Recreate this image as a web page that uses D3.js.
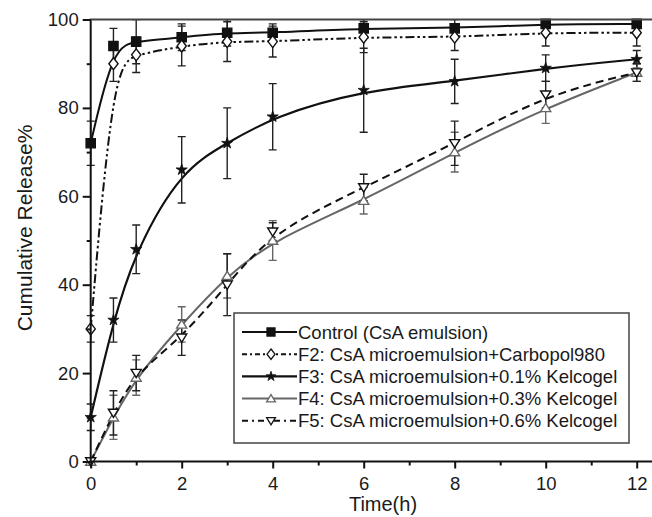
<!DOCTYPE html>
<html>
<head>
<meta charset="utf-8">
<script src="https://cdn.jsdelivr.net/npm/d3@7"></script>
<style>
  body { margin: 0; background: #fff; }
  svg text { font-family: "Liberation Sans", Arial, sans-serif; fill: #1a1a1a; }
</style>
</head>
<body>
<div id="release_chart"></div>
<script>
// sampling times (h)
var times = [0, 0.5, 1, 2, 3, 4, 6, 8, 10, 12];

// cumulative release % and SD for each formulation
var controlVals = [72, 94, 95, 96, 97, 97, 98, 98, 99, 99];
var controlErr  = [5, 4, 5, 3, 3, 2, 2, 2, 1, 1];
var f2Vals = [30, 90, 92, 94, 95, 95, 96, 96, 97, 97];
var f2Err  = [3, 4, 4, 4.5, 4.5, 3.5, 3.5, 3, 3, 3];
var f3Vals = [10, 32, 48, 66, 72, 78, 84, 86, 89, 91];
var f3Err  = [3, 5, 5.5, 7.5, 8, 7.5, 9.5, 5, 3, 2];
var f4Vals = [0, 10, 19, 31, 42, 50, 59, 70, 80, 88];
var f4Err  = [0.5, 5, 4, 4, 5, 4.5, 3, 4.5, 3.5, 2];
var f5Vals = [0, 11, 20, 28, 40, 52, 62, 72, 83, 88];
var f5Err  = [0.5, 5, 4, 4, 7, 2, 3, 5, 3, 2];

var seriesNames = [
  "Control (CsA emulsion)",
  "F2: CsA microemulsion+Carbopol980",
  "F3: CsA microemulsion+0.1% Kelcogel",
  "F4: CsA microemulsion+0.3% Kelcogel",
  "F5: CsA microemulsion+0.6% Kelcogel"
];

var xMajorTicks = [0, 2, 4, 6, 8, 10, 12];
var xMinorTicks = [1, 3, 5, 7, 9, 11];
var yMajorTicks = [0, 20, 40, 60, 80, 100];
var yMinorTicks = [10, 30, 50, 70, 90];

var svg, x, y;
drawChart();

/**
 * path for a marker, s = half size
 */
function markerPath(kind, s) {
  if (kind == "square") return "M" + (-s) + "," + (-s) + "h" + (2 * s) + "v" + (2 * s) + "h" + (-2 * s) + "Z";
  if (kind == "diamond") return "M0," + (-s * 1.3) + "L" + s + ",0L0," + (s * 1.3) + "L" + (-s) + ",0Z";
  if (kind == "star") return d3.symbol().type(d3.symbolStar).size(s * s * 1.3)();
  if (kind == "up") return "M0," + (-s) + "L" + (s * 1.1) + "," + (s * 0.8) + "L" + (-s * 1.1) + "," + (s * 0.8) + "Z";
  if (kind == "down") return "M0," + s + "L" + (s * 1.1) + "," + (-s * 0.8) + "L" + (-s * 1.1) + "," + (-s * 0.8) + "Z";
}

function drawChart()
{
  svg = d3.select("#release_chart")
    .append("svg")
    .attr("width", 652)
    .attr("height", 517);

  x = d3.scaleLinear().domain([0, 12]).range([90.7, 636.7]);
  y = d3.scaleLinear().domain([0, 100]).range([461.5, 19.5]);

  var series = [
    {name: seriesNames[0], vals: controlVals, err: controlErr, color: "#111", bar: "#222", dash: null, marker: "square", fill: "#111", width: 2},
    {name: seriesNames[1], vals: f2Vals, err: f2Err, color: "#111", bar: "#222", dash: "9,3,2.5,3,2.5,3", marker: "diamond", fill: "#fff", width: 2},
    {name: seriesNames[2], vals: f3Vals, err: f3Err, color: "#111", bar: "#222", dash: null, marker: "star", fill: "#111", width: 2.2},
    {name: seriesNames[3], vals: f4Vals, err: f4Err, color: "#666", bar: "#666", dash: null, marker: "up", fill: "#fff", width: 2},
    {name: seriesNames[4], vals: f5Vals, err: f5Err, color: "#111", bar: "#222", dash: "8,5", marker: "down", fill: "#fff", width: 2}
  ];

  svg.append("clipPath").attr("id", "plotClip")
    .append("rect")
    .attr("x", 60).attr("y", y(100))
    .attr("width", 600).attr("height", y(0) - y(100) + 30);

  var plot = svg.append("g").attr("clip-path", "url(#plotClip)");

  // smoothed (fitted-looking) curves
  var line = d3.line()
    .x(function(d) { return x(d[0]); })
    .y(function(d) { return y(d[1]); })
    .curve(d3.curveBasis);

  series.forEach(function(s) {
    plot.append("path")
      .datum(times.map(function(t, i) { return [t, s.vals[i]]; }))
      .attr("d", line)
      .attr("fill", "none")
      .attr("stroke", s.color)
      .attr("stroke-width", s.width)
      .attr("stroke-dasharray", s.dash);
  });

  // error bars
  series.forEach(function(s) {
    var g = plot.append("g").attr("stroke", s.bar).attr("stroke-width", 1.4);
    times.forEach(function(t, i) {
      var cx = x(t), hi = y(s.vals[i] + s.err[i]), lo = y(s.vals[i] - s.err[i]);
      g.append("line").attr("x1", cx).attr("x2", cx).attr("y1", hi).attr("y2", lo);
      g.append("line").attr("x1", cx - 4).attr("x2", cx + 4).attr("y1", hi).attr("y2", hi);
      g.append("line").attr("x1", cx - 4).attr("x2", cx + 4).attr("y1", lo).attr("y2", lo);
    });
  });

  // markers
  series.forEach(function(s) {
    svg.append("g")
      .selectAll("path")
      .data(times.map(function(t, i) { return [t, s.vals[i]]; }))
      .enter()
      .append("path")
      .attr("transform", function(d) { return "translate(" + x(d[0]) + "," + y(d[1]) + ")"; })
      .attr("d", markerPath(s.marker, s.marker == "star" ? 5.5 : 4.6))
      .attr("fill", s.fill)
      .attr("stroke", s.color)
      .attr("stroke-width", s.marker == "star" ? 0.8 : 1.4);
  });

  // frame: left, bottom, top (right edge is cut off)
  svg.append("line").attr("x1", x(0)).attr("x2", x(0)).attr("y1", y(0)).attr("y2", y(100))
    .attr("stroke", "#111").attr("stroke-width", 2);
  svg.append("line").attr("x1", x(0) - 1).attr("x2", 652).attr("y1", y(0)).attr("y2", y(0))
    .attr("stroke", "#111").attr("stroke-width", 2);
  svg.append("line").attr("x1", x(0) - 1).attr("x2", 652).attr("y1", y(100)).attr("y2", y(100))
    .attr("stroke", "#444").attr("stroke-width", 2);

  // x axis
  svg.append("g")
    .attr("transform", "translate(0," + y(0) + ")")
    .call(d3.axisBottom(x).tickValues(xMajorTicks).tickSize(7).tickPadding(8));
  svg.append("g")
    .attr("transform", "translate(0," + y(0) + ")")
    .call(d3.axisBottom(x).tickValues(xMinorTicks).tickSize(4).tickFormat(""));

  // y axis
  svg.append("g")
    .attr("transform", "translate(" + x(0) + ",0)")
    .call(d3.axisLeft(y).tickValues(yMajorTicks).tickSize(8).tickPadding(4));
  svg.append("g")
    .attr("transform", "translate(" + x(0) + ",0)")
    .call(d3.axisLeft(y).tickValues(yMinorTicks).tickSize(4).tickFormat(""));

  svg.selectAll(".domain").remove();
  svg.selectAll(".tick line").attr("stroke", "#111").attr("stroke-width", 2);
  svg.selectAll(".tick text").attr("font-size", 18.5).attr("font-family", null).attr("fill", "#1a1a1a");

  // axis titles
  svg.append("text")
    .attr("x", 383).attr("y", 511)
    .attr("text-anchor", "middle")
    .attr("font-size", 20)
    .text("Time(h)");
  svg.append("text")
    .attr("transform", "translate(32,228) rotate(-90)")
    .attr("text-anchor", "middle")
    .attr("font-size", 21)
    .text("Cumulative Release%");

  // legend
  var legend = svg.append("g");
  legend.append("rect")
    .attr("x", 234).attr("y", 313)
    .attr("width", 395).attr("height", 130)
    .attr("fill", "#fff")
    .attr("stroke", "#444")
    .attr("stroke-width", 1.5);

  series.forEach(function(s, i) {
    var ly = 332 + i * 22.2;
    legend.append("line")
      .attr("x1", 242).attr("x2", 297).attr("y1", ly).attr("y2", ly)
      .attr("stroke", s.color).attr("stroke-width", s.width)
      .attr("stroke-dasharray", s.dash ? (s.dash == "8,5" ? "6,4,2,4" : "5,3,2,3") : null);
    legend.append("path")
      .attr("transform", "translate(271," + ly + ")")
      .attr("d", markerPath(s.marker, s.marker == "star" ? 4.8 : 4))
      .attr("fill", s.fill)
      .attr("stroke", s.color)
      .attr("stroke-width", s.marker == "star" ? 0.8 : 1.3);
    legend.append("text")
      .attr("x", 298).attr("y", ly + 6.5)
      .attr("font-size", 18.5)
      .text(s.name);
  });
}
</script>
</body>
</html>
